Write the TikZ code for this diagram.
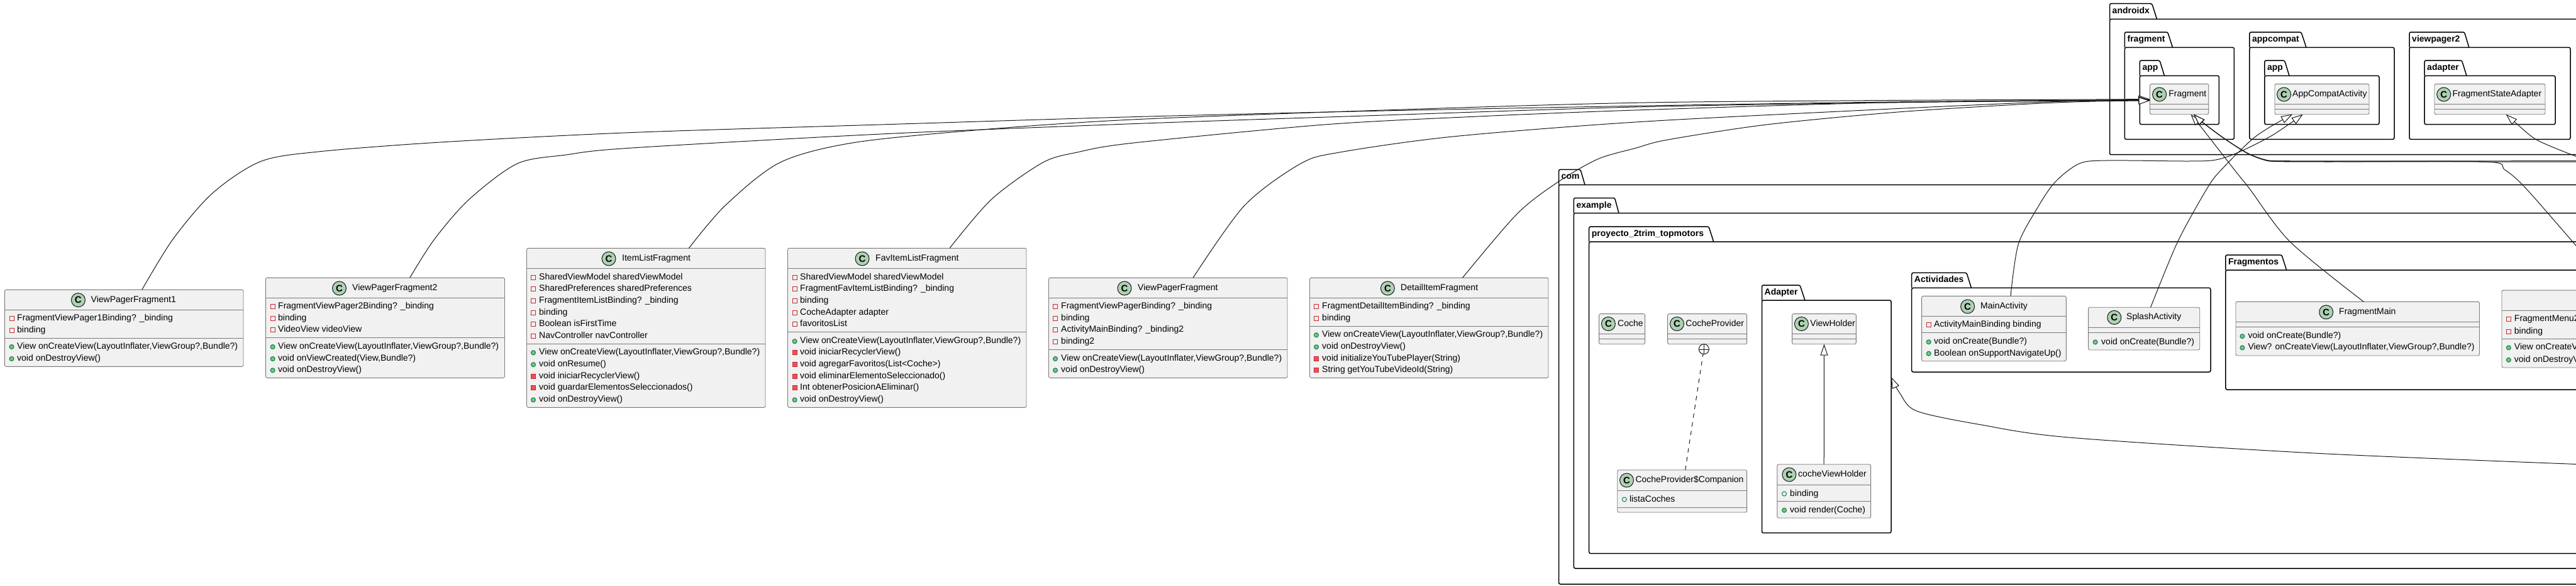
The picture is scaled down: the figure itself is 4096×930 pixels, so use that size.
\documentclass[tikz,border=0pt]{standalone}
\usepackage{fontspec}
\setmainfont{Liberation Sans}
\usetikzlibrary{arrows.meta}

\definecolor{umlline}{HTML}{181818}
\definecolor{umlborder}{HTML}{7A7A7A}
\definecolor{umlfill}{HTML}{F1F1F1}
\definecolor{umlbadge}{HTML}{ADD1B2}
\definecolor{umlred}{HTML}{C82930}
\definecolor{umlredfill}{HTML}{F24D5C}
\definecolor{umlgreen}{HTML}{038048}
\definecolor{umlgreenfill}{HTML}{84BE84}

\tikzset{
    classbox/.style = {rectangle, draw = umlborder, line width = 0.9pt, fill = umlfill, rounded corners = 2.5pt, inner sep = 0pt, outer sep = 0pt},
    classsep/.style = {draw = umlborder, line width = 0.9pt},
    pkgbox/.style = {rectangle, draw = black, line width = 1.5pt, rounded corners = 2.5pt, inner sep = 0pt, outer sep = 0pt},
    pkgtab/.style = {draw = black, line width = 1.5pt, rounded corners = 2.5pt},
    pkglabel/.style = {anchor = west, inner sep = 0pt, text height = 10pt, text depth = 3pt, font = \fontsize{14}{16}\selectfont\bfseries},
    badge/.style = {circle, draw = umlline, line width = 1pt, fill = umlbadge, minimum size = 22pt, inner sep = 0pt, font = \fontsize{15}{16}\selectfont\bfseries},
    title/.style = {anchor = west, inner sep = 0pt, text height = 10pt, text depth = 3pt, font = \fontsize{14}{16}\selectfont},
    member/.style = {anchor = west, inner sep = 0pt, text height = 10pt, text depth = 3pt, font = \fontsize{14}{16}\selectfont},
    privf/.style = {rectangle, draw = umlred, line width = 1pt, minimum size = 7pt, inner sep = 0pt},
    privm/.style = {rectangle, draw = umlred, line width = 1pt, fill = umlredfill, minimum size = 7pt, inner sep = 0pt},
    pubf/.style = {circle, draw = umlgreen, line width = 1pt, minimum size = 7pt, inner sep = 0pt},
    pubm/.style = {circle, draw = umlgreen, line width = 1pt, fill = umlgreenfill, minimum size = 7pt, inner sep = 0pt},
    extendsline/.style = {draw = umlline, line width = 1pt, -{Triangle[fill = white, length = 18pt, width = 12pt]}},
    curve/.style = {smooth, tension = 0.5},
    nestcircle/.style = {circle, draw = umlline, line width = 1pt, fill = white, minimum size = 16pt, inner sep = 0pt},
    nestline/.style = {draw = umlline, line width = 1pt, dash pattern = on 7pt off 7pt}
}

\newcommand{\oncreate}{View onCreateView(LayoutInflater,ViewGroup?,Bundle?)}

% name, x1, y1, x2, y2, first separator, second separator
\newcommand{\umlclass}[7]{
    \pgfmathsetmacro{\cx}{(#2 + #4) / 2}
    \pgfmathsetmacro{\cy}{(#3 + #5) / 2}
    \pgfmathsetmacro{\bw}{#4 - #2}
    \pgfmathsetmacro{\bh}{#5 - #3}
    \node [classbox, minimum width = \bw pt, minimum height = \bh pt] (#1) at (\cx, \cy) {};
    \draw [classsep] (#1.west |- 0, #6) -- (#1.east |- 0, #6);
    \draw [classsep] (#1.west |- 0, #7) -- (#1.east |- 0, #7);
}
% name, badge x, y, title x, title
\newcommand{\umltitle}[5]{
    \node [badge] (#1badge) at (#2, #3) {C};
    \node [title] (#1title) at (#4, #3) {#5};
}
% name, icon x, text x, list of kind/y/text
\newcommand{\umlmembers}[4]{
    \foreach \kind/\my/\txt [count = \n] in {#4} {
        \node [\kind] (#1icon\n) at (#2, \my) {};
        \node [member] (#1member\n) at (#3, \my) {\txt};
    }
}
% name, x1, tab top, body top, x2, bottom, tab right at top, tab right at body, label
\newcommand{\umlpackage}[9]{
    \pgfmathsetmacro{\cx}{(#2 + #5) / 2}
    \pgfmathsetmacro{\cy}{(#4 + #6) / 2}
    \pgfmathsetmacro{\bw}{#5 - #2}
    \pgfmathsetmacro{\bh}{#6 - #4}
    \pgfmathsetmacro{\lx}{#2 + 4}
    \pgfmathsetmacro{\ly}{(#3 + #4) / 2}
    \node [pkgbox, minimum width = \bw pt, minimum height = \bh pt] (#1) at (\cx, \cy) {};
    \draw [pkgtab] (#2, #4) -- (#2, #3) -- (#7, #3) -- (#8, #4);
    \node [pkglabel] (#1label) at (\lx, \ly) {#9};
}

\begin{document}
\begin{tikzpicture}[x = 1pt, y = -1pt]
    \useasboundingbox (0, 0) rectangle (4096, 930);
    \clip (0, 0) rectangle (4096, 930);

    \umlpackage{androidx}{3354.5}{5.7}{30.3}{4150}{245.7}{3421.7}{3429.5}{androidx}
    \umlpackage{fragmentpkg}{3378.4}{51}{75.3}{3552.4}{221.3}{3446.7}{3454.5}{fragment}
    \umlpackage{fragmentapp}{3402.4}{96}{120.3}{3528.4}{197.7}{3434}{3441.5}{app}
    \umlpackage{appcompatpkg}{3576.9}{51}{75.3}{3807}{221.3}{3659}{3667}{appcompat}
    \umlpackage{appcompatapp}{3600.8}{96}{120.3}{3783}{197.7}{3632.6}{3640}{app}
    \umlpackage{viewpagerpkg}{3831}{51}{75.3}{4087}{221.3}{3918.5}{3925.8}{viewpager2}
    \umlpackage{adapterpkg}{3855}{96}{120.3}{4063}{197.7}{3914.4}{3922}{adapter}
    \umlpackage{com}{2478.5}{269.4}{293.5}{4150}{928}{2513}{2520}{com}
    \umlpackage{example}{2502.4}{314.5}{338.5}{4150}{903}{2567.5}{2574}{example}
    \umlpackage{proyecto}{2526.7}{360}{384}{4150}{879.4}{2717}{2724.7}{proyecto\_2trim\_topmotors}
    \umlpackage{adapters}{2801.5}{453}{477}{3007}{846.7}{2862}{2870}{Adapter}
    \umlpackage{actividades}{3039.7}{433.4}{457.4}{3515}{591}{3127}{3134.4}{Actividades}
    \umlpackage{fragmentos}{3538.8}{405}{429.2}{4150}{619}{3628}{3635.7}{Fragmentos}

    \umlclass{vpfone}{7.4}{460.3}{387}{582.3}{492.3}{537.3}
    \umltitle{vpfone}{124.4}{476.7}{144.5}{ViewPagerFragment1}
    \umlmembers{vpfone}{18.5}{27}{privf/506.3/FragmentViewPager1Binding? \_binding, privf/525.3/binding, pubm/551/\oncreate, pubm/570/void onDestroyView()}

    \umlclass{vpftwo}{422.4}{441.3}{802.5}{600.3}{473.3}{536}
    \umltitle{vpftwo}{539.5}{458}{560}{ViewPagerFragment2}
    \umlmembers{vpftwo}{433.6}{442}{privf/487.3/FragmentViewPager2Binding? \_binding, privf/506.3/binding, privf/524.3/VideoView videoView, pubm/551/\oncreate, pubm/570/void onViewCreated(View{,}Bundle?), pubm/588.3/void onDestroyView()}

    \umlclass{itemlist}{837.5}{394.3}{1217}{647.3}{426.3}{546.3}
    \umltitle{itemlist}{968}{411}{989}{ItemListFragment}
    \umlmembers{itemlist}{848}{857}{privf/441.3/SharedViewModel sharedViewModel, privf/459.3/SharedPreferences sharedPreferences, privf/478.3/FragmentItemListBinding? \_binding, privf/496.7/binding, privf/515/Boolean isFirstTime, privf/534/NavController navController, pubm/560.3/\oncreate, pubm/579.3/void onResume(), privm/598.3/void iniciarRecyclerView(), privm/616.3/void guardarElementosSeleccionados(), pubm/635.3/void onDestroyView()}

    \umlclass{favlist}{1252.5}{394.3}{1632}{647.3}{426.3}{527}
    \umltitle{favlist}{1371}{411}{1392}{FavItemListFragment}
    \umlmembers{favlist}{1263.6}{1272}{privf/441.3/SharedViewModel sharedViewModel, privf/459.3/FragmentFavItemListBinding? \_binding, privf/478.3/binding, privf/496.7/CocheAdapter adapter, privf/515/favoritosList, pubm/542.3/\oncreate, privm/560.3/void iniciarRecyclerView(), privm/579.3/void agregarFavoritos(List<Coche>), privm/598.3/void eliminarElementoSeleccionado(), privm/616.3/Int obtenerPosicionAEliminar(), pubm/635.3/void onDestroyView()}

    \umlclass{vpf}{1667.5}{441.3}{2047}{600.3}{473.3}{555.3}
    \umltitle{vpf}{1788}{458}{1809}{ViewPagerFragment}
    \umlmembers{vpf}{1678}{1687}{privf/487.3/FragmentViewPagerBinding? \_binding, privf/506.3/binding, privf/524.3/ActivityMainBinding? \_binding2, privf/543.3/binding2, pubm/570/\oncreate, pubm/588.3/void onDestroyView()}

    \umlclass{detail}{2082.5}{441.3}{2462}{600.3}{473.3}{518.3}
    \umltitle{detail}{2206.4}{458}{2227}{DetailItemFragment}
    \umlmembers{detail}{2093}{2102}{privf/487.3/FragmentDetailItemBinding? \_binding, privf/506.3/binding, pubm/532.3/\oncreate, pubm/551.3/void onDestroyView(), privm/570/void initializeYouTubePlayer(String), privm/588.3/String getYouTubeVideoId(String)}

    \umlclass{coche}{2542.6}{498.6}{2615.6}{546.7}{530.8}{538.5}
    \umltitle{coche}{2557.4}{514.5}{2572}{Coche}
    \umlclass{cocheprov}{2651.6}{498.6}{2777.6}{546.7}{530.8}{538.5}
    \umltitle{cocheprov}{2666.5}{514.5}{2680.2}{CocheProvider}
    \umlclass{companion}{2571.7}{746.7}{2777.6}{814}{779}{806}
    \umltitle{companion}{2586.5}{763}{2600.3}{CocheProvider\$Companion}
    \umlmembers{companion}{2582.8}{2590.8}{pubf/793.5/listaCoches}
    \umlclass{vholder}{2849.6}{498.6}{2951.3}{546.7}{530.8}{538.5}
    \umltitle{vholder}{2864.4}{514.5}{2878.2}{ViewHolder}
    \umlclass{cochevh}{2825.8}{737.7}{2974.6}{823}{770}{796.9}
    \umltitle{cochevh}{2844.9}{754}{2859}{cocheViewHolder}
    \umlmembers{cochevh}{2837}{2846}{pubf/784.5/binding, pubm/810.6/void render(Coche)}

    \umlclass{mainact}{3055.6}{470.3}{3285.3}{573.7}{502.5}{528.7}
    \umltitle{mainact}{3128.6}{487}{3149}{MainActivity}
    \umlmembers{mainact}{3066.7}{3075}{privf/516.2/ActivityMainBinding binding, pubm/543.3/void onCreate(Bundle?), pubm/561.7/Boolean onSupportNavigateUp()}
    \umlclass{splash}{3320.6}{488.2}{3497.7}{556}{520.5}{528.6}
    \umltitle{splash}{3361.8}{504.4}{3381}{SplashActivity}
    \umlmembers{splash}{3331.6}{3341}{pubm/543.5/void onCreate(Bundle?)}

    \umlclass{fragmain}{3555}{479.3}{3942.5}{565}{511.6}{519.7}
    \umltitle{fragmain}{3698.7}{495.9}{3719}{FragmentMain}
    \umlmembers{fragmain}{3565.4}{3574.3}{pubm/534.2/void onCreate(Bundle?), pubm/552.4/View? onCreateView(LayoutInflater{,}ViewGroup?{,}Bundle?)}
    \umlclass{fragmenu}{3978}{461.1}{4358}{584}{493.5}{538.7}
    \umlmembers{fragmenu}{3988.8}{3997.7}{privf/507.2/FragmentMenu2Binding? \_binding, privf/526.6/binding, pubm/552.4/\oncreate, pubm/571.8/void onDestroyView()}

    \umlclass{fragment}{3418.5}{133.3}{3511.8}{181.7}{165.3}{173.3}
    \umltitle{fragment}{3433.6}{150}{3448.2}{Fragment}
    \umlclass{appcompat}{3617}{133.3}{3767}{181.7}{165.3}{173.3}
    \umltitle{appcompat}{3631.6}{150}{3645}{AppCompatActivity}
    \umlclass{stateadapter}{3871}{133.3}{4047}{181.7}{165.3}{173.3}
    \umltitle{stateadapter}{3885.7}{150}{3899.3}{FragmentStateAdapter}

    \coordinate (cocheadapterend) at (4100, 737.6);
    \coordinate (menuend) at (4100, 395);
    \coordinate (fragmentend) at (4100, 255.5);
    \coordinate (fragmentendb) at (4100, 257);
    \coordinate (stateend) at (4100, 250);

    \draw [extendsline] plot [curve] coordinates {([xshift = 28.5pt]vpfone.north) (275, 380) (337.8, 307) (414, 256.7) (506, 241) (700, 226) (1000, 210.7) (1400, 198) (1800, 185.7) (2200, 176) (2600, 168.3) (3000, 162) (3332, 159) ([yshift = -0.5pt]fragment.west)};
    \draw [extendsline] plot [curve] coordinates {([xshift = 39.2pt]vpftwo.north) (690.8, 380) (746, 316.7) (822.4, 260) (900, 246) (1000, 235.3) (1400, 213) (1800, 196.7) (2200, 183) (2600, 170) (3000, 163) (3332, 159.5) ([yshift = -1pt]fragment.west)};
    \draw [extendsline] plot [curve] coordinates {([xshift = 68.1pt]itemlist.north) (1153, 326.7) (1240, 258.3) (1357, 226.7) (1561, 206) (1800, 190) (2200, 175) (2600, 163.3) (3000, 159.5) (3332, 158) (fragment.west)};
    \draw [extendsline] plot [curve] coordinates {([xshift = 67.8pt]favlist.north) (1576.5, 316.7) (1658, 258.3) (1714, 241.7) (1800, 227.3) (2106, 198) (2350, 185) (2600, 175) (3000, 163) (3332, 160) ([yshift = -1.5pt]fragment.west)};
    \draw [extendsline] plot [curve] coordinates {([xshift = 39.8pt]vpf.north) (1978.6, 326.7) (2068, 260) (2131.6, 241.7) (2310, 217) (2600, 194) (2966, 175) (3227, 163) (3332, 160) ([yshift = -2pt]fragment.west)};
    \draw [extendsline] plot [curve] coordinates {([xshift = 53.3pt]detail.north) (2412, 340) (2476, 290) (2540, 253) (2600, 235.5) (2652, 222) (2809, 198) (3018, 178) (3227.6, 165) (3332, 161) ([yshift = -2.5pt]fragment.west)};

    \draw [extendsline] plot [curve] coordinates {([xshift = 9.5pt]fragmain.north) (3642, 384.8) (3577, 300) (3553, 270) (3500, 202) ([xshift = 18.3pt]fragment.south)};
    \draw [extendsline] plot [curve] coordinates {(fragmentend) (3950, 255.8) (3700, 255.8) (3620, 255.5) (3600, 253.3) (3573, 243) (3536.7, 220) (3503, 195) ([xshift = 23pt]fragment.south)};
    \draw [extendsline] plot [curve] coordinates {(fragmentendb) (3950, 257) (3700, 256.7) (3620, 256.3) (3600, 254) (3573, 243.5) (3537.2, 220.5) (3503.5, 195.5) ([xshift = 23.5pt]fragment.south)};
    \draw [extendsline] plot [curve] coordinates {(menuend) (4017, 300) (3983, 270) (3952, 257) (3700, 257) (3620, 256.5) (3600, 254) (3573, 243) (3536.7, 220) (3503, 195) ([xshift = 23pt]fragment.south)};

    \draw [extendsline] plot [curve] coordinates {([xshift = 26.5pt]mainact.north) (3209, 388.9) (3238, 333) (3267, 290) (3306, 260) (3350, 255) (3480, 256) (3523, 254) (3560, 241.7) (3613, 215) ([xshift = -30.3pt]appcompat.south)};
    \draw [extendsline] plot [curve] coordinates {([xshift = 10.5pt]splash.north) (3462.3, 384.8) (3509, 300) (3531.7, 270) (3586.7, 216.7) ([xshift = -47pt]appcompat.south)};
    \draw [extendsline] plot [curve] coordinates {(stateend) (4035, 223) (4001, 196) ([xshift = 25.7pt]stateadapter.south)};
    \draw [extendsline] plot [curve] coordinates {(cocheadapterend) (3680, 720) (3290, 695) (3148, 674.5) (3047.6, 653) (3021, 625) ([yshift = 62.85pt]adapters.east)};

    \draw [extendsline] (cochevh.north) -- (vholder.south);

    \node [nestcircle] (nest) at (2709.3, 554.7) {};
    \draw [umlline] (nest.north) -- (nest.south);
    \draw [umlline] (nest.west) -- (nest.east);
    \draw [nestline] ([xshift = 5pt]companion.north) -- (nest.260);
\end{tikzpicture}
\end{document}
